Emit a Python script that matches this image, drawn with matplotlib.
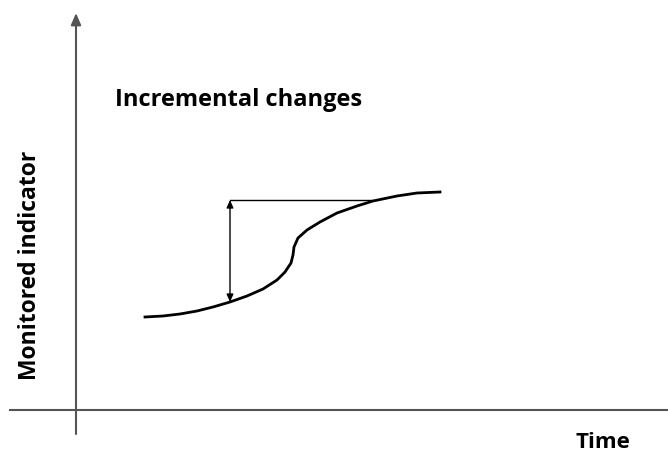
import numpy as np
import matplotlib.pyplot as plt

# schematic curve: time vs monitored indicator
time = [145, 163, 180, 197, 213, 230, 247, 263, 277, 285, 291, 293, 294,
        298, 307, 320, 337, 357, 373, 397, 417, 440]
indicator = [136, 137, 139, 142, 146, 151, 157, 164, 173, 181, 190, 198, 206,
             215, 223, 231, 240, 247, 252, 257, 260, 261]

# incremental change marker
step_time = 230
step_low = 151
step_high = 253
step_end = 372

plt.rcParams['font.family'] = ['Open Sans', 'DejaVu Sans']

fig = plt.figure(figsize=(6.68, 4.53), dpi=100)
ax = fig.add_axes([0, 0, 1, 1])
ax.set_xlim(0, 668)
ax.set_ylim(0, 453)
ax.axis('off')

# axes
ax.plot([10, 668], [43, 43], color='#555555', lw=1.5)
ax.annotate('', xy=(76, 440), xytext=(76, 19),
            arrowprops=dict(arrowstyle='-|>,head_length=0.7,head_width=0.3',
                            color='#555555', lw=1.5, shrinkA=0, shrinkB=0))

# curve
ax.plot(time, indicator, color='black', lw=2, solid_joinstyle='round')

# double arrow and horizontal reference
ax.annotate('', xy=(step_time, step_high), xytext=(step_time, step_low),
            arrowprops=dict(arrowstyle='<|-|>,head_length=0.45,head_width=0.2',
                            color='black', lw=1, shrinkA=0, shrinkB=0))
ax.plot([step_time, step_end], [step_high, step_high], color='black', lw=1)

ax.text(115, 353, 'Incremental changes', fontsize=17, fontweight='bold', va='center')
ax.text(603, 10, 'Time', fontsize=16, fontweight='bold', ha='center', va='center')
ax.text(30, 188, 'Monitored indicator', fontsize=16.5, fontweight='bold',
        rotation=90, ha='center', va='center')

plt.savefig('out.png', dpi=100)
